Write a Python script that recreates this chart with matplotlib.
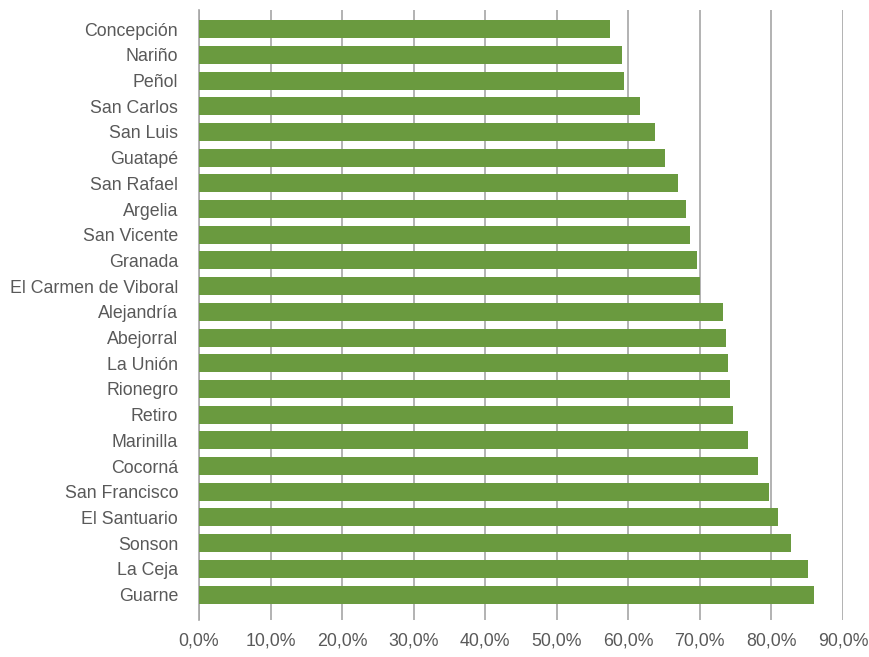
import matplotlib.pyplot as plt
from matplotlib.ticker import FuncFormatter

# municipalities, top to bottom
municipios = ['Concepción', 'Nariño', 'Peñol', 'San Carlos', 'San Luis', 'Guatapé',
              'San Rafael', 'Argelia', 'San Vicente', 'Granada', 'El Carmen de Viboral',
              'Alejandría', 'Abejorral', 'La Unión', 'Rionegro', 'Retiro', 'Marinilla',
              'Cocorná', 'San Francisco', 'El Santuario', 'Sonson', 'La Ceja', 'Guarne']
porcentaje = [57.5, 59.1, 59.4, 61.6, 63.8, 65.2, 66.9, 68.0, 68.6, 69.6, 70.0,
              73.2, 73.7, 73.9, 74.2, 74.7, 76.7, 78.1, 79.7, 80.9, 82.7, 85.1, 85.9]
xticks = [0, 10, 20, 30, 40, 50, 60, 70, 80, 90]

plt.rcParams['font.family'] = ['Liberation Sans', 'DejaVu Sans']

fig = plt.figure(figsize=(8.69, 6.57), dpi=100)
ax = fig.add_axes([0.229, 0.056, 0.741, 0.929])

pos = list(range(len(municipios)))
ax.barh(pos, porcentaje, height=0.7, color='#6a9a3f', zorder=3)

ax.set_xlim(0, 90)
ax.set_ylim(23.0, -0.75)
ax.set_xticks(xticks)
ax.xaxis.set_major_formatter(FuncFormatter(lambda v, p: f'{v:.1f}%'.replace('.', ',')))
ax.set_yticks(pos)
ax.set_yticklabels(municipios)

ax.grid(axis='x', color='#a6a6a6', linewidth=1.2, zorder=0)
for s in ['top', 'right', 'bottom']:
    ax.spines[s].set_visible(False)
ax.spines['left'].set_color('#a6a6a6')
ax.spines['left'].set_linewidth(1.2)
ax.tick_params(axis='both', length=0, labelsize=12.8, colors='#595959')
ax.tick_params(axis='y', pad=15)
ax.tick_params(axis='x', pad=9)

fig.savefig('out.png', dpi=100)
